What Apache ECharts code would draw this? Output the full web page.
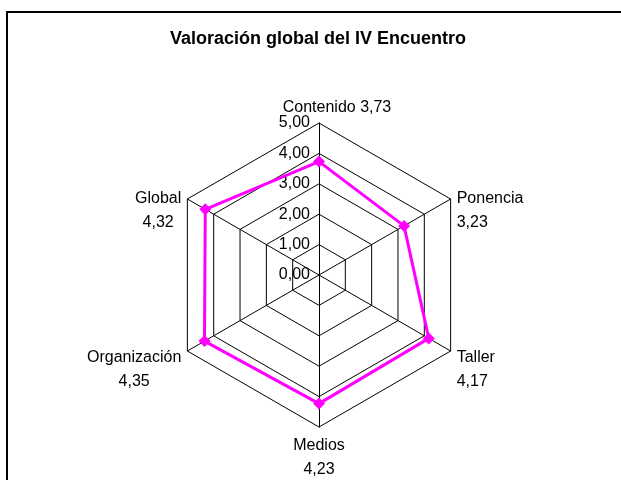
<!DOCTYPE html>
<html>
<head>
<meta charset="utf-8">
<script src="https://cdn.jsdelivr.net/npm/echarts@6/dist/echarts.min.js"></script>
<style>
html,body{margin:0;padding:0;background:#fff;}
#chart{width:621px;height:480px;}
</style>
</head>
<body>
<div id="chart"></div>
<script>
// Data (clockwise from top, as in the reference)
var categories = ['Contenido', 'Ponencia', 'Taller', 'Medios', 'Organización', 'Global'];
var values = [3.73, 3.23, 4.17, 4.23, 4.35, 4.32];
var tickLabels = ['0,00', '1,00', '2,00', '3,00', '4,00', '5,00'];
var axisMax = 5;
var titleText = 'Valoración global del IV Encuentro';

// ECharts radar lays indicators counter-clockwise; reorder to show clockwise
var order = [0, 5, 4, 3, 2, 1];
// which side each category label sits on (for alignment of its two lines)
var side = ['top', 'right', 'right', 'bottom', 'left', 'left'];

function fmt(v) { return v.toFixed(2).replace('.', ','); }

var FONT = '"Liberation Sans", Arial, sans-serif';

var indicators = order.map(function (i, k) {
  var ind = { name: categories[i], max: axisMax, min: 0 };
  if (k === 0) {
    ind.axisLabel = {
      show: true,
      color: '#000',
      fontSize: 16,
      fontFamily: FONT,
      margin: 9,
      padding: [5, 0, 0, 0],
      formatter: function (v) { return tickLabels[Math.round(v)]; }
    };
  }
  return ind;
});

var chart = echarts.init(document.getElementById('chart'), null, { renderer: 'canvas' });

chart.setOption({
  backgroundColor: '#fff',
  animation: false,
  title: {
    text: titleText,
    left: 313,
    textAlign: 'center',
    top: 25,
    textStyle: { fontSize: 18, fontWeight: 'bold', color: '#000', fontFamily: FONT }
  },
  graphic: [{
    type: 'rect',
    shape: { x: 7, y: 12, width: 700, height: 600 },
    style: { fill: null, stroke: '#000', lineWidth: 2 },
    silent: true
  }],
  radar: {
    center: [319, 275],
    radius: 152,
    startAngle: 90,
    shape: 'polygon',
    splitNumber: 5,
    nameGap: 7,
    axisName: {
      color: '#000',
      fontSize: 16,
      fontFamily: FONT,
      formatter: function (name) {
        var idx = categories.indexOf(name);
        var val = fmt(values[idx]);
        var s = side[idx];
        if (s === 'top') {
          return '{top|' + name + '} ' + val;
        }
        if (s === 'bottom') {
          return '{cc|' + name + '}\n{cc|' + val + '}';
        }
        var st = s === 'left' ? 'cc' : 'lc';
        return '{g| }\n{' + st + '|' + name + '}\n{' + st + '|' + val + '}';
      },
      rich: {
        top: { fontSize: 16, fontFamily: FONT, color: '#000', padding: [0, 0, 0, 36] },
        cc: { fontSize: 16, fontFamily: FONT, color: '#000', lineHeight: 24, align: 'center' },
        lc: { fontSize: 16, fontFamily: FONT, color: '#000', lineHeight: 24, align: 'left' },
        g: { fontSize: 16, fontFamily: FONT, color: '#000', lineHeight: 30 }
      }
    },
    axisLabel: { show: false },
    axisLine: { lineStyle: { color: '#000', width: 1 } },
    splitLine: { lineStyle: { color: '#000', width: 1 } },
    splitArea: { show: false },
    axisTick: { show: false },
    indicator: indicators
  },
  series: [{
    type: 'radar',
    symbol: 'diamond',
    symbolSize: 12,
    lineStyle: { color: '#FF00FF', width: 3 },
    itemStyle: { color: '#FF00FF' },
    data: [{ value: order.map(function (i) { return values[i]; }), name: 'Valoración' }]
  }]
});
</script>
</body>
</html>
